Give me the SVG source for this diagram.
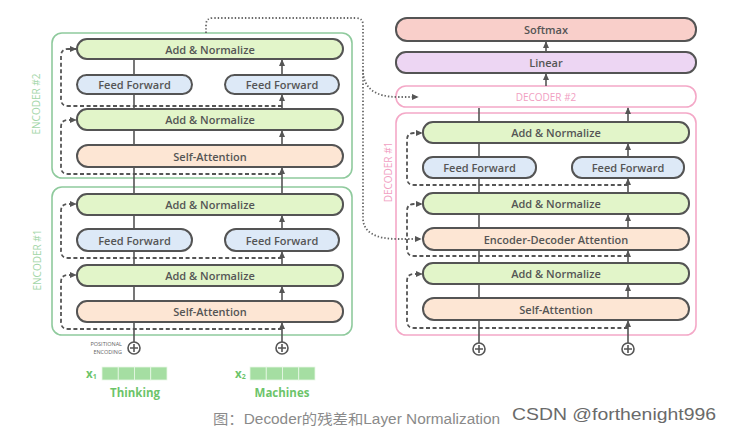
<svg xmlns="http://www.w3.org/2000/svg" width="731" height="433" viewBox="0 0 731 433">
<defs>
<style>
.b{stroke:#545454;stroke-width:2}
.an{fill:#e2f5c9}
.ff{fill:#dde9f7}
.sa{fill:#fde6d4}
.t{font-family:"Open Sans","Liberation Sans",sans-serif;font-size:11px;font-weight:600;fill:#555;text-anchor:middle;dominant-baseline:central}
.enc{fill:none;stroke:#8fca9d;stroke-width:1.6}
.dec{fill:none;stroke:#f4a8c7;stroke-width:1.6}
.el{font-family:"Open Sans","Liberation Sans",sans-serif;font-size:10px;fill:#a3d6a8;text-anchor:middle;dominant-baseline:central}
.dl{font-family:"Open Sans","Liberation Sans",sans-serif;font-size:10px;fill:#f1a0c2;text-anchor:middle;dominant-baseline:central}
.ar{fill:none;stroke:#555;stroke-width:1.6;marker-end:url(#ah)}
.ds{fill:none;stroke:#555;stroke-width:1.8;stroke-dasharray:4 2.6;marker-end:url(#ah)}
.dt{fill:none;stroke:#666;stroke-width:1.8;stroke-dasharray:1.4 2;marker-end:url(#ah)}
.pl{fill:none;stroke:#555;stroke-width:1.6}
.cell{fill:#a5dea2;stroke:#e8f7e6;stroke-width:0.8}
.g{font-family:"Open Sans","Liberation Sans",sans-serif;font-weight:700;fill:#6cc46a}
</style>
<marker id="ah" viewBox="0 0 10 10" refX="9" refY="5" markerWidth="7" markerHeight="7" markerUnits="userSpaceOnUse" orient="auto"><path d="M0,0.5 L10,5 L0,9.5 z" fill="#555"/></marker>
</defs>
<rect width="731" height="433" fill="#fff"/>

<g id="encoder2">
<rect class="enc" x="52" y="33" width="300" height="145" rx="10"/>
<text class="el" transform="translate(36,104) rotate(-90)">ENCODER #2</text>
</g>
<g id="encoder1">
<rect class="enc" x="52" y="187" width="300" height="148" rx="10"/>
<text class="el" transform="translate(37,260) rotate(-90)">ENCODER #1</text>
</g>
<g id="decoder2">
<rect class="dec" x="396" y="86" width="300" height="21" rx="10"/>
<text class="dl" x="546" y="97">DECODER #2</text>
</g>
<g id="decoder1">
<rect class="dec" x="396" y="113" width="300" height="222" rx="10"/>
<text class="dl" transform="translate(388,172) rotate(-90)">DECODER #1</text>
</g>

<g id="connectors">
<path class="ar" d="M134,145 V131 M282,145 V131"/>
<path class="ar" d="M134,109 V95 M282,109 V95"/>
<path class="ar" d="M134,75 V60 M282,75 V60"/>
<path class="ar" d="M134,194 V168 M282,194 V168"/>
<path class="ar" d="M134,301 V287 M282,301 V287"/>
<path class="ar" d="M134,265 V252 M282,265 V252"/>
<path class="ar" d="M134,229 V216 M282,229 V216"/>
<path class="ar" d="M134,342 V323 M282,342 V323"/>
<path class="ds" d="M282,174 H68 Q61,174 61,167 V127 Q61,120 68,120 H76"/>
<path class="ds" d="M282,106 H68 Q61,106 61,99 V56 Q61,49 68,49 H76"/>
<path class="ds" d="M282,329 H68 Q61,329 61,322 V282 Q61,275 68,275 H76"/>
<path class="ds" d="M282,258 H68 Q61,258 61,251 V211 Q61,204 68,204 H76"/>
<path class="ar" d="M479,343 V321 M628,343 V321"/>
<path class="ar" d="M479,298 V285 M628,298 V285"/>
<path class="ar" d="M479,263 V251 M628,263 V251"/>
<path class="ar" d="M479,228 V215 M628,228 V215"/>
<path class="ar" d="M479,193 V179 M628,193 V179"/>
<path class="ar" d="M479,157 V144 M628,157 V144"/>
<path class="ar" d="M479,122 V108 M628,122 V108"/>
<path class="ar" d="M546,86 V74"/>
<path class="ar" d="M546,52 V42"/>
<path class="ds" d="M628,328 H414 Q407,328 407,321 V281 Q407,274 414,274 H422"/>
<path class="ds" d="M628,256 H414 Q407,256 407,249 V211 Q407,204 414,204 H422"/>
<path class="ds" d="M628,185 H414 Q407,185 407,178 V140 Q407,133 414,133 H422"/>
<path class="dt" d="M206,33 V25 Q206,18 213,18 H356 Q363,18 363,25 V70 C363,88 375,97 398,97 H418"/>
<path class="dt" d="M363,70 V218 C363,232 375,239 398,239 H421"/>
</g>

<g id="e2_an_top"><rect class="b an" x="77" y="39" width="266" height="20" rx="10"/><text class="t" x="210" y="49">Add &amp; Normalize</text></g>
<g id="e2_ff_1"><rect class="b ff" x="77" y="75" width="115" height="19" rx="9.5"/><text class="t" x="134.5" y="84.5">Feed Forward</text></g>
<g id="e2_ff_2"><rect class="b ff" x="225" y="75" width="114" height="19" rx="9.5"/><text class="t" x="282" y="84.5">Feed Forward</text></g>
<g id="e2_an"><rect class="b an" x="77" y="109" width="266" height="21" rx="10"/><text class="t" x="210" y="119.5">Add &amp; Normalize</text></g>
<g id="e2_sa"><rect class="b sa" x="77" y="145" width="266" height="22" rx="11"/><text class="t" x="210" y="156">Self-Attention</text></g>

<g id="e1_an_top"><rect class="b an" x="77" y="194" width="266" height="21" rx="10"/><text class="t" x="210" y="204.5">Add &amp; Normalize</text></g>
<g id="e1_ff_1"><rect class="b ff" x="77" y="229" width="115" height="22" rx="11"/><text class="t" x="134.5" y="240">Feed Forward</text></g>
<g id="e1_ff_2"><rect class="b ff" x="225" y="229" width="114" height="22" rx="11"/><text class="t" x="282" y="240">Feed Forward</text></g>
<g id="e1_an"><rect class="b an" x="77" y="265" width="266" height="21" rx="10"/><text class="t" x="210" y="275.5">Add &amp; Normalize</text></g>
<g id="e1_sa"><rect class="b sa" x="77" y="301" width="266" height="21" rx="10"/><text class="t" x="210" y="311.5">Self-Attention</text></g>

<g id="softmax"><rect class="b" fill="#f9cfca" x="396" y="18" width="300" height="23" rx="11"/><text class="t" x="546" y="29.5">Softmax</text></g>
<g id="linear"><rect class="b" fill="#edd6f3" x="396" y="52" width="300" height="21" rx="10"/><text class="t" x="546" y="62.5">Linear</text></g>

<g id="d1_an_top"><rect class="b an" x="423" y="122" width="266" height="21" rx="10"/><text class="t" x="556" y="132.5">Add &amp; Normalize</text></g>
<g id="d1_ff_1"><rect class="b ff" x="423" y="157" width="113" height="21" rx="10"/><text class="t" x="479.5" y="167.5">Feed Forward</text></g>
<g id="d1_ff_2"><rect class="b ff" x="572" y="157" width="112" height="21" rx="10"/><text class="t" x="628" y="167.5">Feed Forward</text></g>
<g id="d1_an_mid"><rect class="b an" x="423" y="193" width="266" height="21" rx="10"/><text class="t" x="556" y="203.5">Add &amp; Normalize</text></g>
<g id="d1_eda"><rect class="b sa" x="423" y="228" width="266" height="22" rx="11"/><text class="t" x="556" y="239">Encoder-Decoder Attention</text></g>
<g id="d1_an"><rect class="b an" x="423" y="263" width="266" height="21" rx="10"/><text class="t" x="556" y="273.5">Add &amp; Normalize</text></g>
<g id="d1_sa"><rect class="b sa" x="423" y="298" width="266" height="22" rx="11"/><text class="t" x="556" y="309">Self-Attention</text></g>

<g id="plus_e1"><circle class="pl" cx="134" cy="348" r="6"/><path class="pl" d="M130,348 H138 M134,344 V352"/></g>
<g id="plus_e2"><circle class="pl" cx="282" cy="348" r="6"/><path class="pl" d="M278,348 H286 M282,344 V352"/></g>
<g id="plus_d1"><circle class="pl" cx="479" cy="349" r="6"/><path class="pl" d="M475,349 H483 M479,345 V353"/></g>
<g id="plus_d2"><circle class="pl" cx="628" cy="349" r="6"/><path class="pl" d="M624,349 H632 M628,345 V353"/></g>

<g id="posenc"><text font-family="'Open Sans','Liberation Sans',sans-serif" font-size="5.5" fill="#666" text-anchor="end"><tspan x="122" y="346">POSITIONAL</tspan><tspan x="122" y="354">ENCODING</tspan></text></g>

<g id="token1">
<rect class="cell" x="102" y="367" width="16.25" height="13"/><rect class="cell" x="118.25" y="367" width="16.25" height="13"/><rect class="cell" x="134.5" y="367" width="16.25" height="13"/><rect class="cell" x="150.75" y="367" width="16.25" height="13"/>
<text class="g" x="86" y="378" font-size="11.5">x<tspan font-size="7" dy="1">1</tspan></text>
<text class="g" x="135" y="392" font-size="11.5" text-anchor="middle" dominant-baseline="central">Thinking</text>
</g>
<g id="token2">
<rect class="cell" x="250" y="367" width="16.25" height="13"/><rect class="cell" x="266.25" y="367" width="16.25" height="13"/><rect class="cell" x="282.5" y="367" width="16.25" height="13"/><rect class="cell" x="298.75" y="367" width="16.25" height="13"/>
<text class="g" x="235" y="378" font-size="11.5">x<tspan font-size="7" dy="1">2</tspan></text>
<text class="g" x="282" y="392" font-size="11.5" text-anchor="middle" dominant-baseline="central">Machines</text>
</g>

<text x="213" y="424" font-family="'Liberation Sans','Noto Sans CJK SC',sans-serif" font-size="14" fill="#8a8a8a" textLength="287" lengthAdjust="spacingAndGlyphs">图：Decoder的残差和Layer Normalization</text>
<text x="512" y="420" font-family="'Liberation Sans','Noto Sans',sans-serif" font-size="17" fill="#6a6a6a" textLength="204" lengthAdjust="spacingAndGlyphs">CSDN @forthenight996</text>
</svg>
